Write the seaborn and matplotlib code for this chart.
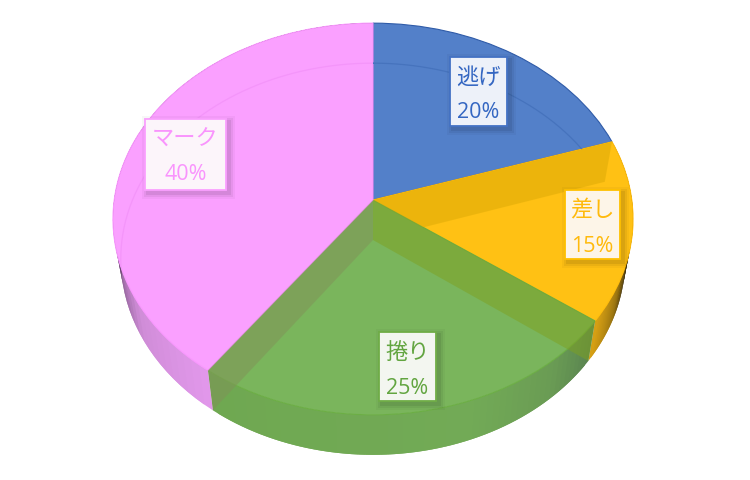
import numpy as np
import seaborn as sns
import matplotlib.pyplot as plt
from matplotlib.colors import to_rgb
from matplotlib.patches import Rectangle
from matplotlib.transforms import Transform

categories = ['逃げ', '差し', '捲り', 'マーク']
shares = [20, 15, 25, 40]

face_colors = ['#5380C9', '#FFC114', '#7AB55C', '#FAA0FF']
edge_colors = ['#2F5BA8', '#FFBC0A', '#6CAE45', '#F896FD']
box_edges = ['#4472C4', '#FFC000', '#70AD47', '#FAA0FF']
text_colors = ['#3567C2', '#FFBA0C', '#62A540', '#F994FD']
box_colors = ['#EDF1F9', '#FDF5E8', '#F3F6F0', '#FCF5FA']
arc_colors = ['#4673BD', None, None, '#F495FA']

# label boxes: left, top, right, bottom in pixels
boxes = [(450, 57, 507, 126), (565, 190, 620, 259), (379, 332, 436, 401), (145, 119, 226, 190)]

# rim shading, angle clockwise from the top -> colour
rim_stops = {
    1: [(95, '#000000'), (104, '#2A1E00'), (114, '#9A7410'), (126, '#DDA414')],
    2: [(126, '#5A8450'), (140, '#6A9C54'), (160, '#72AA56'), (216, '#6FA851')],
    3: [(216, '#E298EB'), (240, '#CF8CD7'), (255, '#8E6296'), (267, '#2A182E'), (285, '#000000')],
}
# see-through radial walls: slice boundary -> colour, and the slice it shows through
wall_colors = {72: ('#DBA906', 1), 126: ('#7EA120', None), 216: ('#809158', None)}


class TiltedDisk(Transform):
    """Unit disk -> screen pixels, with the perspective of the 3D pie."""
    input_dims = 2
    output_dims = 2

    def __init__(self, apex_y=200, squeeze=1.0):
        super().__init__()
        self.apex_y = apex_y
        self.squeeze = squeeze

    def transform_non_affine(self, values):
        values = np.asarray(values, dtype=float)
        w = 1 + 0.097 * values[:, 1]
        x = 373 + self.squeeze * 258.8 * values[:, 0] / w
        y = self.apex_y - 194 * values[:, 1] / w
        return np.column_stack([x, y])


top = TiltedDisk(200, 1.0)
bottom = TiltedDisk(240, 0.97)


def on_rim(disk, angle):
    t = np.radians(angle)
    return disk.transform_non_affine(np.array([[np.sin(t), np.cos(t)]]))[0]


sns.set_theme(style='white')
plt.rcParams['font.family'] = ['Noto Sans CJK JP', 'DejaVu Sans']

fig = plt.figure(figsize=(7.5, 4.8), dpi=100)
ax = fig.add_axes([0, 0, 1, 1])

wedges, _ = ax.pie(shares, colors=face_colors, startangle=90, counterclock=False,
                   wedgeprops={'zorder': 2, 'linewidth': 0.8})
ax.set_aspect('auto')
ax.set_xlim(0, 750)
ax.set_ylim(480, 0)
ax.axis('off')

for wedge, edge in zip(wedges, edge_colors):
    wedge.set_transform(top + ax.transData)
    wedge.set_edgecolor(edge)

ends = np.cumsum(shares) * 3.6
starts = ends - np.array(shares) * 3.6

# rim, drawn under the top face; each strip runs over the next so no seams show
for i, stops in rim_stops.items():
    angles, cols = zip(*stops)
    rgb = np.array([to_rgb(c) for c in cols])
    steps = np.linspace(starts[i], ends[i], 61)
    for a0, a1, a2 in zip(steps[:-2], steps[1:-1], steps[2:]):
        col = [np.interp((a0 + a1) / 2, angles, rgb[:, k]) for k in range(3)]
        quad = np.array([on_rim(top, a0), on_rim(top, a1), on_rim(top, a2),
                         on_rim(bottom, a2), on_rim(bottom, a1), on_rim(bottom, a0)])
        ax.fill(quad[:, 0], quad[:, 1], color=col, lw=0, zorder=1)

# radial walls seen through the top face
centre = np.array([[0.0, 0.0]])
for angle, (col, slice_no) in wall_colors.items():
    quad = np.array([top.transform_non_affine(centre)[0], on_rim(top, angle),
                     on_rim(bottom, angle), bottom.transform_non_affine(centre)[0]])
    poly, = ax.fill(quad[:, 0], quad[:, 1], color=col, alpha=0.5, lw=0, zorder=3)
    if slice_no is not None:
        poly.set_clip_path(wedges[slice_no])

# bottom disk edge showing through the blue and pink faces
sweep = np.linspace(0, 360, 361)
bottom_edge = np.array([on_rim(bottom, a) for a in sweep])
for wedge, col in zip(wedges, arc_colors):
    if col is None:
        continue
    line, = ax.plot(bottom_edge[:, 0], bottom_edge[:, 1], color=col, lw=0.9, zorder=3)
    line.set_clip_path(wedge)

# labels
for name, share, (x0, y0, x1, y1), edge, fill, txt in zip(categories, shares, boxes, box_edges,
                                                           box_colors, text_colors):
    for grow, alpha in [(6, 0.03), (4, 0.05), (2, 0.07)]:
        ax.add_patch(Rectangle((x0 + 3 - grow, y0 + 3 - grow), x1 - x0 + 2 * grow, y1 - y0 + 2 * grow,
                               facecolor='#000000', alpha=alpha, lw=0, zorder=4))
    ax.add_patch(Rectangle((x0, y0), x1 - x0, y1 - y0, facecolor=fill, edgecolor=edge, lw=1.3, zorder=5))
    xc = (x0 + x1) / 2
    ax.text(xc, y0 + 20, name, color=txt, fontsize=16, ha='center', va='center', zorder=6)
    ax.text(xc, y0 + 56, f'{share}%', color=txt, fontsize=15.5, ha='center', va='center',
            family='Open Sans', zorder=6)

fig.savefig('out.png', dpi=100)
